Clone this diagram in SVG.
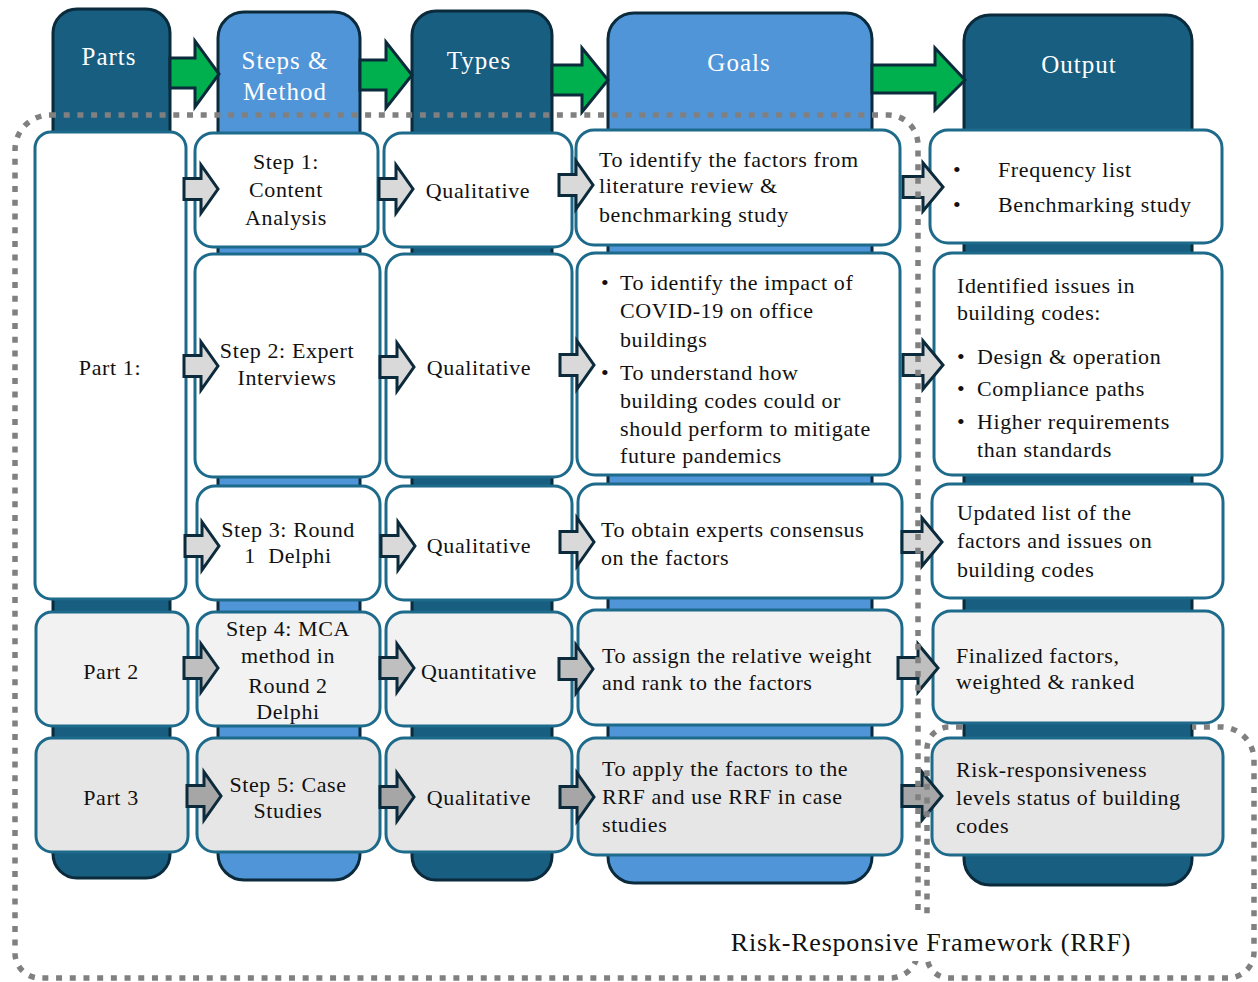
<svg xmlns="http://www.w3.org/2000/svg" width="1258" height="982" viewBox="0 0 1258 982">
  <style>
    .col-dark { fill: #175E81; stroke: #0B2A3B; stroke-width: 3; }
    .col-light { fill: #4F95D8; stroke: #0B2A3B; stroke-width: 3; }
    .box { stroke: #1D6A8B; stroke-width: 3; }
    .r1 { fill: #FFFFFF; }
    .r4 { fill: #F2F2F2; }
    .r5 { fill: #E6E6E6; }
    .hdr { font-family: "Liberation Serif", "Times New Roman", serif; font-size: 25px; fill: #FFFFFF; letter-spacing: 1px; text-anchor: middle; }
    .t { font-family: "Liberation Serif", "Times New Roman", serif; font-size: 22px; fill: #111111; letter-spacing: 0.6px; }
    .c { text-anchor: middle; }
    .pre { white-space: pre; }
    .big-arrow { fill: #00B04F; stroke: #0B2A3B; stroke-width: 3; stroke-linejoin: miter; }
    .sm { stroke: #0B2A3B; stroke-width: 3; }
    .a1 { fill: #D9D9D9; }
    .a4 { fill: #BFBFBF; }
    .a5 { fill: #A6A6A6; }
    .dots { fill: none; stroke: #808080; stroke-width: 5.5; stroke-dasharray: 6 7.7; }
    .caption { font-family: "Liberation Serif", "Times New Roman", serif; font-size: 26px; fill: #111111; letter-spacing: 0.8px; text-anchor: middle; }
  </style>
  <defs>
    <path id="sa" d="M-34 -10.5 H-17 V-24 L0 0 L-17 24 V10.5 H-34 Z"/>
    <path id="sa-long" d="M-40 -10.5 H-20 V-24 L0 0 L-20 24 V10.5 H-40 Z"/>
  </defs>

  <!-- column bands -->
  <g id="col-parts"><rect class="col-dark" x="53" y="9" width="117" height="869" rx="24"/><text class="hdr" x="109" y="65">Parts</text></g>
  <g id="col-steps"><rect class="col-light" x="218" y="12" width="142" height="868" rx="26"/><text class="hdr" x="285" y="69">Steps &amp;</text><text class="hdr" x="285" y="100">Method</text></g>
  <g id="col-types"><rect class="col-dark" x="412" y="11" width="140" height="869" rx="24"/><text class="hdr" x="479" y="69">Types</text></g>
  <g id="col-goals"><rect class="col-light" x="608" y="13" width="264" height="870" rx="26"/><text class="hdr" x="739" y="71">Goals</text></g>
  <g id="col-output"><rect class="col-dark" x="964" y="15" width="228" height="870" rx="26"/><text class="hdr" x="1079" y="73">Output</text></g>

  <!-- part boxes -->
  <g id="part1"><rect class="box r1" x="35" y="132" width="151" height="467" rx="16"/><text class="t c" x="110" y="375">Part 1:</text></g>
  <g id="part2"><rect class="box r4" x="36" y="612" width="152" height="114" rx="16"/><text class="t c" x="111" y="679">Part 2</text></g>
  <g id="part3"><rect class="box r5" x="36" y="738" width="152" height="114" rx="16"/><text class="t c" x="111" y="805">Part 3</text></g>

  <!-- step boxes -->
  <g id="step1"><rect class="box r1" x="195" y="133" width="183" height="114" rx="18"/><text class="t c" x="286" y="169">Step 1:</text><text class="t c" x="286" y="197">Content</text><text class="t c" x="286" y="225">Analysis</text></g>
  <g id="step2"><rect class="box r1" x="195" y="254" width="185" height="223" rx="18"/><text class="t c" x="287" y="358">Step 2: Expert</text><text class="t c" x="287" y="385">Interviews</text></g>
  <g id="step3"><rect class="box r1" x="197" y="486" width="183" height="114" rx="18"/><text class="t c" x="288" y="537">Step 3: Round</text><text class="t c pre" x="288" y="563" xml:space="preserve">1  Delphi</text></g>
  <g id="step4"><rect class="box r4" x="197" y="612" width="183" height="114" rx="18"/><text class="t c" x="288" y="636">Step 4: MCA</text><text class="t c" x="288" y="663">method in</text><text class="t c" x="288" y="693">Round 2</text><text class="t c" x="288" y="719">Delphi</text></g>
  <g id="step5"><rect class="box r5" x="197" y="738" width="183" height="114" rx="18"/><text class="t c" x="288" y="792">Step 5: Case</text><text class="t c" x="288" y="818">Studies</text></g>

  <!-- type boxes -->
  <g id="type1"><rect class="box r1" x="384" y="133" width="188" height="114" rx="18"/><text class="t c" x="478" y="198">Qualitative</text></g>
  <g id="type2"><rect class="box r1" x="386" y="254" width="186" height="223" rx="18"/><text class="t c" x="479" y="375">Qualitative</text></g>
  <g id="type3"><rect class="box r1" x="386" y="486" width="186" height="114" rx="18"/><text class="t c" x="479" y="553">Qualitative</text></g>
  <g id="type4"><rect class="box r4" x="386" y="612" width="186" height="114" rx="18"/><text class="t c" x="479" y="679">Quantitative</text></g>
  <g id="type5"><rect class="box r5" x="386" y="738" width="186" height="114" rx="18"/><text class="t c" x="479" y="805">Qualitative</text></g>

  <!-- goal boxes -->
  <g id="goal1"><rect class="box r1" x="576" y="130" width="324" height="115" rx="18"/>
    <text class="t" x="599" y="167">To identify the factors from</text>
    <text class="t" x="599" y="193">literature review &amp;</text>
    <text class="t" x="599" y="222">benchmarking study</text></g>
  <g id="goal2"><rect class="box r1" x="577" y="253" width="323" height="222" rx="18"/>
    <text class="t" x="601" y="290">•</text><text class="t" x="620" y="290">To identify the impact of</text>
    <text class="t" x="620" y="318">COVID-19 on office</text>
    <text class="t" x="620" y="347">buildings</text>
    <text class="t" x="601" y="380">•</text><text class="t" x="620" y="380">To understand how</text>
    <text class="t" x="620" y="408">building codes could or</text>
    <text class="t" x="620" y="436">should perform to mitigate</text>
    <text class="t" x="620" y="463">future pandemics</text></g>
  <g id="goal3"><rect class="box r1" x="578" y="484" width="324" height="114" rx="18"/>
    <text class="t" x="601" y="537">To obtain experts consensus</text>
    <text class="t" x="601" y="565">on the factors</text></g>
  <g id="goal4"><rect class="box r4" x="578" y="610" width="324" height="115" rx="18"/>
    <text class="t" x="602" y="663">To assign the relative weight</text>
    <text class="t" x="602" y="690">and rank to the factors</text></g>
  <g id="goal5"><rect class="box r5" x="578" y="738" width="324" height="117" rx="18"/>
    <text class="t" x="602" y="776">To apply the factors to the</text>
    <text class="t" x="602" y="804">RRF and use RRF in case</text>
    <text class="t" x="602" y="832">studies</text></g>

  <!-- output boxes -->
  <g id="out1"><rect class="box r1" x="930" y="130" width="292" height="113" rx="18"/>
    <text class="t" x="953" y="177">•</text><text class="t" x="998" y="177">Frequency list</text>
    <text class="t" x="953" y="212">•</text><text class="t" x="998" y="212">Benchmarking study</text></g>
  <g id="out2"><rect class="box r1" x="934" y="253" width="288" height="222" rx="18"/>
    <text class="t" x="957" y="293">Identified issues in</text>
    <text class="t" x="957" y="320">building codes:</text>
    <text class="t" x="957" y="364">•</text><text class="t" x="977" y="364">Design &amp; operation</text>
    <text class="t" x="957" y="396">•</text><text class="t" x="977" y="396">Compliance paths</text>
    <text class="t" x="957" y="429">•</text><text class="t" x="977" y="429">Higher requirements</text>
    <text class="t" x="977" y="457">than standards</text></g>
  <g id="out3"><rect class="box r1" x="932" y="484" width="291" height="114" rx="18"/>
    <text class="t" x="957" y="520">Updated list of the</text>
    <text class="t" x="957" y="548">factors and issues on</text>
    <text class="t" x="957" y="577">building codes</text></g>
  <g id="out4"><rect class="box r4" x="933" y="611" width="290" height="112" rx="18"/>
    <text class="t" x="956" y="663">Finalized factors,</text>
    <text class="t" x="956" y="689">weighted &amp; ranked</text></g>
  <g id="out5"><rect class="box r5" x="932" y="738" width="291" height="117" rx="18"/>
    <text class="t" x="956" y="777">Risk-responsiveness</text>
    <text class="t" x="956" y="805">levels status of building</text>
    <text class="t" x="956" y="833">codes</text></g>

  <!-- connectors -->
  <g id="connectors">
    <path class="big-arrow" d="M170 58 H195 V41 L219 74 L195 107 V88 H170 Z"/>
    <path class="big-arrow" d="M360 60 H386 V42 L412 75 L386 108 V90 H360 Z"/>
    <path class="big-arrow" d="M552 65 H582 V48 L608 80 L582 112 V95 H552 Z"/>
    <path class="big-arrow" d="M872 65 H935 V48 L965 80 L935 110 V93 H872 Z"/>

    <use href="#sa" class="sm a1" x="218" y="189"/>
    <use href="#sa" class="sm a1" x="218" y="366"/>
    <use href="#sa" class="sm a1" x="219" y="546"/>
    <use href="#sa" class="sm a4" x="218" y="668"/>
    <use href="#sa" class="sm a5" x="221" y="796"/>

    <use href="#sa" class="sm a1" x="413" y="189"/>
    <use href="#sa" class="sm a1" x="414" y="367"/>
    <use href="#sa" class="sm a1" x="415" y="546"/>
    <use href="#sa" class="sm a4" x="414" y="668"/>
    <use href="#sa" class="sm a5" x="414" y="797"/>

    <use href="#sa" class="sm a1" x="593" y="185"/>
    <use href="#sa" class="sm a1" x="594" y="365"/>
    <use href="#sa" class="sm a1" x="594" y="542"/>
    <use href="#sa" class="sm a4" x="593" y="669"/>
    <use href="#sa" class="sm a5" x="594" y="797"/>

    <use href="#sa-long" class="sm a1" x="943" y="187"/>
    <use href="#sa-long" class="sm a1" x="943" y="365"/>
    <use href="#sa-long" class="sm a1" x="942" y="542"/>
    <use href="#sa-long" class="sm a4" x="938" y="668"/>
    <use href="#sa-long" class="sm a5" x="942" y="796"/>
  </g>

  <!-- framework boundaries -->
  <g id="rrf-boundary">
    <path class="dots" d="M50 115 H888 A30 30 0 0 1 918 145 V950 A28 28 0 0 1 890 978 H40 A25 25 0 0 1 15 953 V150 A35 35 0 0 1 50 115 Z"/>
    <path class="dots" d="M962 727 H949 A22 22 0 0 0 927 749 V956 A22 22 0 0 0 949 978 H1228 A26 26 0 0 0 1254 952 V760 A33 33 0 0 0 1221 727 H1192"/>
    <rect x="726" y="917" width="412" height="44" fill="#FFFFFF"/>
    <text class="caption" x="931" y="951">Risk-Responsive Framework (RRF)</text>
  </g>
</svg>
